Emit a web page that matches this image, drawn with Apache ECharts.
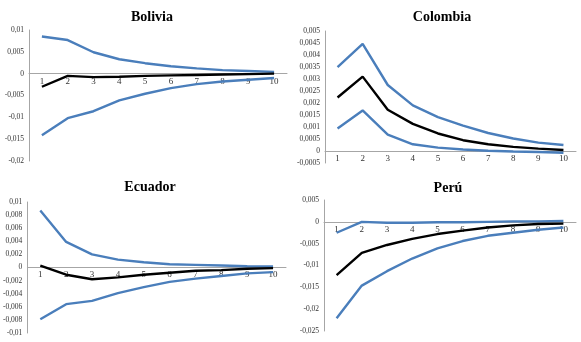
<!DOCTYPE html>
<html><head><meta charset="utf-8">
<script src="https://cdn.jsdelivr.net/npm/echarts@6/dist/echarts.min.js"></script>
<style>html,body{margin:0;padding:0;background:#fff}#c{width:581px;height:342px}</style>
</head><body><div id="c"></div>
<script>
const periods = ['1','2','3','4','5','6','7','8','9','10'];
const titles = ['Bolivia','Colombia','Ecuador','Perú'];

const boliviaUpper = [0.0085,0.0077,0.0049,0.0033,0.0024,0.0017,0.0012,0.0008,0.0006,0.0004];
const boliviaIrf   = [-0.003,-0.0005,-0.0008,-0.0007,-0.0005,-0.0004,-0.0003,-0.0002,-0.0001,0.0];
const boliviaLower = [-0.0141,-0.0102,-0.0086,-0.0061,-0.0046,-0.0033,-0.0024,-0.0018,-0.0014,-0.001];

const colombiaUpper = [0.00349,0.00446,0.00275,0.0019,0.00141,0.00106,0.00075,0.00052,0.00035,0.00025];
const colombiaIrf   = [0.00223,0.0031,0.00172,0.00113,0.00073,0.00045,0.00028,0.00017,0.0001,0.00004];
const colombiaLower = [0.00094,0.00169,0.00068,0.00028,0.00014,0.00006,0.00001,-0.00002,-0.00004,-0.00007];

const ecuadorUpper = [0.0087,0.0039,0.002,0.0012,0.0008,0.0005,0.0004,0.0003,0.0002,0.00015];
const ecuadorIrf   = [0.0003,-0.0011,-0.0018,-0.0015,-0.0011,-0.0008,-0.0005,-0.0004,-0.0002,-0.0001];
const ecuadorLower = [-0.0079,-0.0056,-0.0051,-0.0039,-0.003,-0.0022,-0.0017,-0.0013,-0.0009,-0.0007];

const peruUpper = [-0.0025,0.0,-0.0002,-0.0002,-0.0001,-0.0001,0.0,0.0001,0.0001,0.0002];
const peruIrf   = [-0.0122,-0.0071,-0.0053,-0.0039,-0.0028,-0.002,-0.0013,-0.0008,-0.0005,-0.0004];
const peruLower = [-0.0221,-0.0146,-0.0113,-0.0084,-0.0061,-0.0044,-0.0032,-0.0025,-0.0018,-0.0013];

const yMin = [-0.02,-0.0005,-0.01,-0.025];
const yMax = [0.01,0.005,0.01,0.005];
const yStep = [0.005,0.0005,0.002,0.005];

const panels = [
  [boliviaUpper,boliviaIrf,boliviaLower],
  [colombiaUpper,colombiaIrf,colombiaLower],
  [ecuadorUpper,ecuadorIrf,ecuadorLower],
  [peruUpper,peruIrf,peruLower]
];

const grids = [
  {left:29,top:30,width:258,height:131},
  {left:325,top:31,width:251,height:132},
  {left:27,top:202,width:259,height:131},
  {left:324,top:200,width:252,height:131}
];
const titlePos = [[147,5],[437,5],[145,175],[443,176]];

const fontSerif = '"Liberation Serif","DejaVu Serif",serif';
function fmt(v){
  let s = (+v.toFixed(6)).toString();
  return s.replace('.',',');
}

const option = {
  animation:false,
  backgroundColor:'#fff',
  title: titles.map((t,i)=>({text:t,left:titlePos[i][0],top:titlePos[i][1],textAlign:'center',
    textStyle:{fontFamily:fontSerif,fontWeight:'bold',fontSize:14,color:'#000'}})),
  grid: grids,
  xAxis: grids.map((g,i)=>({type:'category',gridIndex:i,data:periods,boundaryGap:true,position:'bottom',
    offset: -g.height*(0-yMin[i])/(yMax[i]-yMin[i]),
    axisLine:{onZero:false,lineStyle:{color:'#a6a6a6',width:1}},axisTick:{show:false},
    axisLabel:{fontFamily:fontSerif,fontSize:9,color:'#333',margin:3,interval:0},splitLine:{show:false}})),
  yAxis: grids.map((g,i)=>({type:'value',gridIndex:i,min:yMin[i],max:yMax[i],interval:yStep[i],
    axisLine:{show:true,lineStyle:{color:'#a6a6a6',width:1}},axisTick:{show:false},
    axisLabel:{fontFamily:fontSerif,fontSize:7.5,color:'#333',margin:5,formatter:fmt},splitLine:{show:false}})),
  series: []
};
panels.forEach((p,i)=>{
  const colors = ['#4a7ebb','#000000','#4a7ebb'];
  p.forEach((arr,k)=>{
    option.series.push({type:'line',xAxisIndex:i,yAxisIndex:i,data:arr,symbol:'none',
      lineStyle:{color:colors[k],width:2.4},z:k===1?3:2});
  });
});
echarts.init(document.getElementById('c')).setOption(option);
</script></body></html>
